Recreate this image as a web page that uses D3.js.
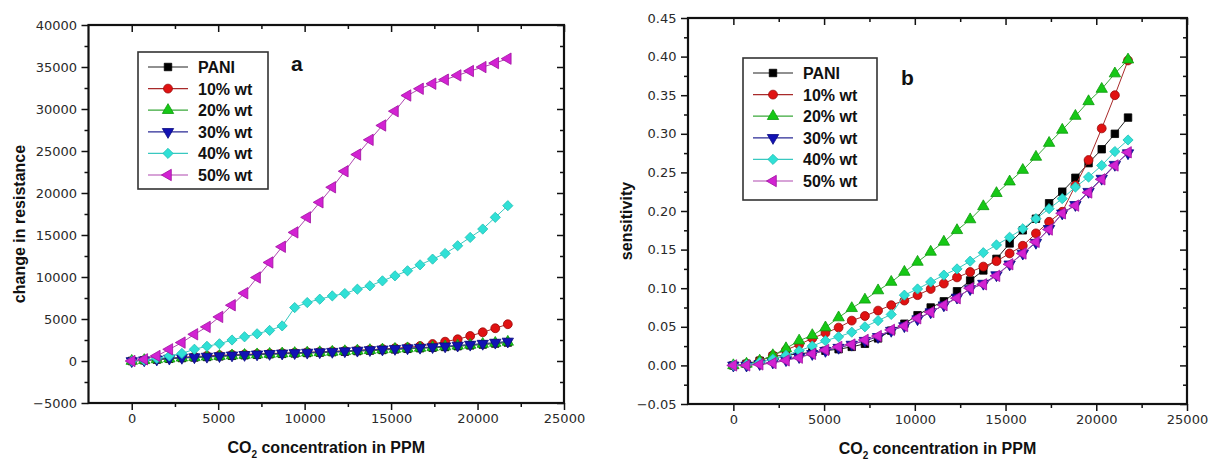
<!DOCTYPE html>
<html>
<head>
<meta charset="utf-8">
<script src="https://cdn.jsdelivr.net/npm/d3@7"></script>
<style>
  html, body { margin: 0; padding: 0; background: #fff; }
  svg { display: block; }
  .tick text { font-family: "DejaVu Sans", sans-serif; font-size: 13px; fill: #2a2a2a; }
  .tick line { stroke: #111; stroke-width: 1.5; }
  .title { font-family: "Liberation Sans", Arial, sans-serif; font-weight: bold; fill: #111; }
</style>
</head>
<body>
<svg id="chart" width="1208" height="461"></svg>
<script>
// CO2 concentration (ppm) at which each reading was taken
const concentration = [0, 725, 1450, 2175, 2900, 3625, 4350, 5075, 5800, 6525, 7250,
  7975, 8700, 9425, 10150, 10875, 11600, 12325, 13050, 13775, 14500,
  15225, 15950, 16675, 17400, 18125, 18850, 19575, 20300, 21025, 21750];

const seriesNames = ["PANI", "10% wt", "20% wt", "30% wt", "40% wt", "50% wt"];

// (a) change in resistance
const resPANI = [0, 80, 170, 260, 350, 420, 480, 550, 620, 680, 740, 800, 850, 900, 950, 1000,
  1050, 1110, 1180, 1240, 1310, 1380, 1450, 1520, 1590, 1670, 1760, 1860, 1960, 2080, 2200];
const res10 = [0, 100, 220, 340, 440, 530, 610, 680, 740, 790, 840, 890, 940, 990, 1040, 1090,
  1150, 1210, 1280, 1350, 1430, 1520, 1620, 1780, 2020, 2300, 2590, 2980, 3420, 3900, 4380];
const res20 = [0, 90, 190, 280, 380, 440, 510, 580, 650, 710, 770, 830, 880, 930, 980, 1030,
  1080, 1150, 1220, 1280, 1350, 1420, 1490, 1560, 1630, 1720, 1810, 1910, 2020, 2140, 2270];
const res30 = [0, 100, 200, 300, 400, 460, 530, 600, 680, 740, 800, 860, 910, 960, 1010, 1060,
  1110, 1180, 1250, 1320, 1390, 1460, 1530, 1600, 1670, 1760, 1850, 1960, 2070, 2200, 2330];
const res40 = [0, 100, 300, 600, 900, 1400, 1750, 2050, 2500, 2880, 3240, 3640, 4180, 6360, 6960, 7360,
  7750, 8030, 8550, 8950, 9540, 10140, 10740, 11450, 12130, 12800, 13720, 14710, 15710, 17100, 18490];
const res50 = [0, 200, 600, 1390, 2190, 3180, 4060, 5250, 6640, 8070, 9940, 11730, 13600, 15310, 17100, 18890,
  20680, 22590, 24580, 26330, 28040, 29740, 31610, 32410, 33010, 33490, 34000, 34520, 34990, 35470, 35990];

// (b) sensitivity
const senPANI = [0, 0.002, 0.006, 0.012, 0.013, 0.015, 0.017, 0.019, 0.021, 0.024, 0.028, 0.035, 0.045, 0.054, 0.065, 0.075,
  0.083, 0.096, 0.110, 0.123, 0.138, 0.158, 0.175, 0.190, 0.210, 0.225, 0.243, 0.262, 0.280, 0.300, 0.321];
const sen10 = [0, 0.002, 0.006, 0.013, 0.020, 0.027, 0.035, 0.042, 0.049, 0.058, 0.064, 0.071, 0.078, 0.084, 0.091, 0.099,
  0.106, 0.114, 0.121, 0.128, 0.135, 0.145, 0.155, 0.171, 0.186, 0.199, 0.233, 0.266, 0.307, 0.350, 0.395];
const sen20 = [0, 0.002, 0.006, 0.013, 0.022, 0.032, 0.039, 0.049, 0.062, 0.074, 0.085, 0.097, 0.108, 0.121, 0.134, 0.147,
  0.160, 0.175, 0.189, 0.206, 0.223, 0.238, 0.253, 0.270, 0.288, 0.305, 0.323, 0.342, 0.358, 0.378, 0.396];
const sen30 = [0, 0.000, 0.002, 0.004, 0.007, 0.011, 0.015, 0.019, 0.023, 0.027, 0.032, 0.037, 0.045, 0.051, 0.060, 0.069,
  0.078, 0.088, 0.099, 0.106, 0.117, 0.131, 0.145, 0.159, 0.177, 0.197, 0.208, 0.225, 0.242, 0.260, 0.275];
const sen40 = [0, 0.001, 0.004, 0.008, 0.013, 0.019, 0.025, 0.032, 0.037, 0.043, 0.050, 0.058, 0.066, 0.091, 0.099, 0.108,
  0.117, 0.125, 0.135, 0.146, 0.156, 0.166, 0.177, 0.190, 0.203, 0.216, 0.231, 0.244, 0.259, 0.277, 0.292];
const sen50 = [0, 0.000, 0.0013, 0.003, 0.0065, 0.010, 0.015, 0.020, 0.024, 0.027, 0.033, 0.038, 0.046, 0.051, 0.061, 0.069,
  0.078, 0.087, 0.100, 0.105, 0.116, 0.131, 0.145, 0.160, 0.176, 0.197, 0.207, 0.224, 0.241, 0.259, 0.276];

const xTicks = [0, 5000, 10000, 15000, 20000, 25000];
const xMinor = [2500, 7500, 12500, 17500, 22500];
const resTicks = [-5000, 0, 5000, 10000, 15000, 20000, 25000, 30000, 35000, 40000];
const resMinor = [-2500, 2500, 7500, 12500, 17500, 22500, 27500, 32500, 37500];
const senTicks = [-0.05, 0, 0.05, 0.10, 0.15, 0.20, 0.25, 0.30, 0.35, 0.40, 0.45];
const senMinor = [-0.025, 0.025, 0.075, 0.125, 0.175, 0.225, 0.275, 0.325, 0.375, 0.425];

// marker shape and colours per series
const styles = [
  { shape: "square",   fill: "#000000", stroke: "#000000", line: "#222222" },
  { shape: "circle",   fill: "#e01212", stroke: "#9a0a0a", line: "#a82a2a" },
  { shape: "up",       fill: "#16c816", stroke: "#0c9a0c", line: "#3aa83a" },
  { shape: "down",     fill: "#1212b4", stroke: "#0a0a80", line: "#2a2a96" },
  { shape: "diamond",  fill: "#30e0d6", stroke: "#22c0b6", line: "#38c8c0" },
  { shape: "left",     fill: "#d222d2", stroke: "#a012a0", line: "#b048b0" }
];

function symbolPath(shape) {
  switch (shape) {
    case "square":  return { d: d3.symbol(d3.symbolSquare, 56)(), rot: 0 };
    case "circle":  return { d: d3.symbol(d3.symbolCircle, 62)(), rot: 0 };
    case "up":      return { d: d3.symbol(d3.symbolTriangle, 56)(), rot: 0 };
    case "down":    return { d: d3.symbol(d3.symbolTriangle, 56)(), rot: 180 };
    case "diamond": return { d: d3.symbol(d3.symbolSquare, 52)(), rot: 45 };
    case "left":    return { d: d3.symbol(d3.symbolTriangle, 56)(), rot: -90 };
  }
}

const svg = d3.select("#chart");
svg.append("rect").attr("width", 1208).attr("height", 461).attr("fill", "#fff");

function drawPanel(cfg) {
  const g = svg.append("g");
  const x = d3.scaleLinear().domain([-2500, 25000]).range([cfg.left, cfg.right]);
  const y = d3.scaleLinear().domain(cfg.yDomain).range([cfg.bottom, cfg.top]);

  // data: lines then markers, series in order so later ones sit on top
  cfg.series.forEach((vals, si) => {
    const st = styles[si];
    const pts = concentration.map((c, i) => [c, vals[i]]);
    g.append("path")
      .attr("d", d3.line().x(d => x(d[0])).y(d => y(d[1]))(pts))
      .attr("fill", "none").attr("stroke", st.line).attr("stroke-width", 1);
    const sym = symbolPath(st.shape);
    g.append("g").selectAll("path").data(pts).join("path")
      .attr("d", sym.d)
      .attr("transform", d => `translate(${x(d[0])},${y(d[1])}) rotate(${sym.rot})`)
      .attr("fill", st.fill).attr("stroke", st.stroke).attr("stroke-width", 0.8);
  });

  // axes: bottom/left ticks outward, top/right ticks inward
  const strip = sel => sel.select(".domain").remove();
  g.append("g").attr("transform", `translate(0,${cfg.bottom})`)
    .call(d3.axisBottom(x).tickValues(xTicks).tickSize(7).tickPadding(4).tickFormat(d3.format("d"))).call(strip);
  g.append("g").attr("transform", `translate(0,${cfg.bottom})`)
    .call(d3.axisBottom(x).tickValues(xMinor).tickSize(4).tickFormat("")).call(strip);
  g.append("g").attr("transform", `translate(0,${cfg.top})`)
    .call(d3.axisTop(x).tickValues(xTicks).tickSize(-7).tickFormat("")).call(strip);
  g.append("g").attr("transform", `translate(0,${cfg.top})`)
    .call(d3.axisTop(x).tickValues(xMinor).tickSize(-4).tickFormat("")).call(strip);

  g.append("g").attr("transform", `translate(${cfg.left},0)`)
    .call(d3.axisLeft(y).tickValues(cfg.yTicks).tickSize(7).tickPadding(4.5).tickFormat(cfg.yFormat)).call(strip);
  g.append("g").attr("transform", `translate(${cfg.left},0)`)
    .call(d3.axisLeft(y).tickValues(cfg.yMinor).tickSize(4).tickFormat("")).call(strip);
  g.append("g").attr("transform", `translate(${cfg.right},0)`)
    .call(d3.axisRight(y).tickValues(cfg.yTicks).tickSize(-7).tickFormat("")).call(strip);
  g.append("g").attr("transform", `translate(${cfg.right},0)`)
    .call(d3.axisRight(y).tickValues(cfg.yMinor).tickSize(-4).tickFormat("")).call(strip);

  // frame
  g.append("rect")
    .attr("x", cfg.left).attr("y", cfg.top)
    .attr("width", cfg.right - cfg.left).attr("height", cfg.bottom - cfg.top)
    .attr("fill", "none").attr("stroke", "#111").attr("stroke-width", 2.2);

  // axis titles
  const xt = g.append("text").attr("class", "title")
    .attr("x", (cfg.left + cfg.right) / 2).attr("y", cfg.bottom + 50)
    .attr("text-anchor", "middle").attr("font-size", 16);
  xt.append("tspan").text("CO");
  xt.append("tspan").attr("font-size", 10).attr("dy", 5).text("2");
  xt.append("tspan").attr("dy", -5).text(" concentration in PPM");

  g.append("text").attr("class", "title")
    .attr("transform", `translate(${cfg.yTitleX},${cfg.yTitleY}) rotate(-90)`)
    .attr("text-anchor", "middle").attr("font-size", 16)
    .text(cfg.yTitle);

  // panel letter
  g.append("text").attr("class", "title")
    .attr("x", cfg.letterX).attr("y", cfg.letterY)
    .attr("font-size", 21).text(cfg.letter);

  // legend
  const lg = g.append("g");
  lg.append("rect")
    .attr("x", cfg.legX).attr("y", cfg.legY)
    .attr("width", cfg.legW).attr("height", cfg.legH)
    .attr("fill", "#fff").attr("stroke", "#333").attr("stroke-width", 1.6);
  seriesNames.forEach((name, si) => {
    const st = styles[si];
    const cy = cfg.legY + 15 + si * 21.6;
    const lx0 = cfg.legX + 10, lx1 = cfg.legX + 50;
    lg.append("line").attr("x1", lx0).attr("x2", lx1).attr("y1", cy).attr("y2", cy)
      .attr("stroke", st.line).attr("stroke-width", 1.2);
    const sym = symbolPath(st.shape);
    lg.append("path").attr("d", sym.d)
      .attr("transform", `translate(${(lx0 + lx1) / 2},${cy}) rotate(${sym.rot})`)
      .attr("fill", st.fill).attr("stroke", st.stroke).attr("stroke-width", 0.8);
    lg.append("text").attr("class", "title")
      .attr("x", cfg.legX + 60).attr("y", cy + 6)
      .attr("font-size", 16).text(name);
  });
}

drawPanel({
  left: 88.5, right: 564, top: 25, bottom: 403,
  yDomain: [-5000, 40000], yTicks: resTicks, yMinor: resMinor, yFormat: d3.format("d"),
  series: [resPANI, res10, res20, res30, res40, res50],
  yTitle: "change in resistance", yTitleX: 25, yTitleY: 224,
  letter: "a", letterX: 291, letterY: 71,
  legX: 138, legY: 52, legW: 130, legH: 137
});

drawPanel({
  left: 688, right: 1187, top: 18, bottom: 404,
  yDomain: [-0.05, 0.45], yTicks: senTicks, yMinor: senMinor, yFormat: d3.format(".2f"),
  series: [senPANI, sen10, sen20, sen30, sen40, sen50],
  yTitle: "sensitivity", yTitleX: 632, yTitleY: 221,
  letter: "b", letterX: 901, letterY: 85,
  legX: 743, legY: 58, legW: 134, legH: 142
});
</script>
</body>
</html>
